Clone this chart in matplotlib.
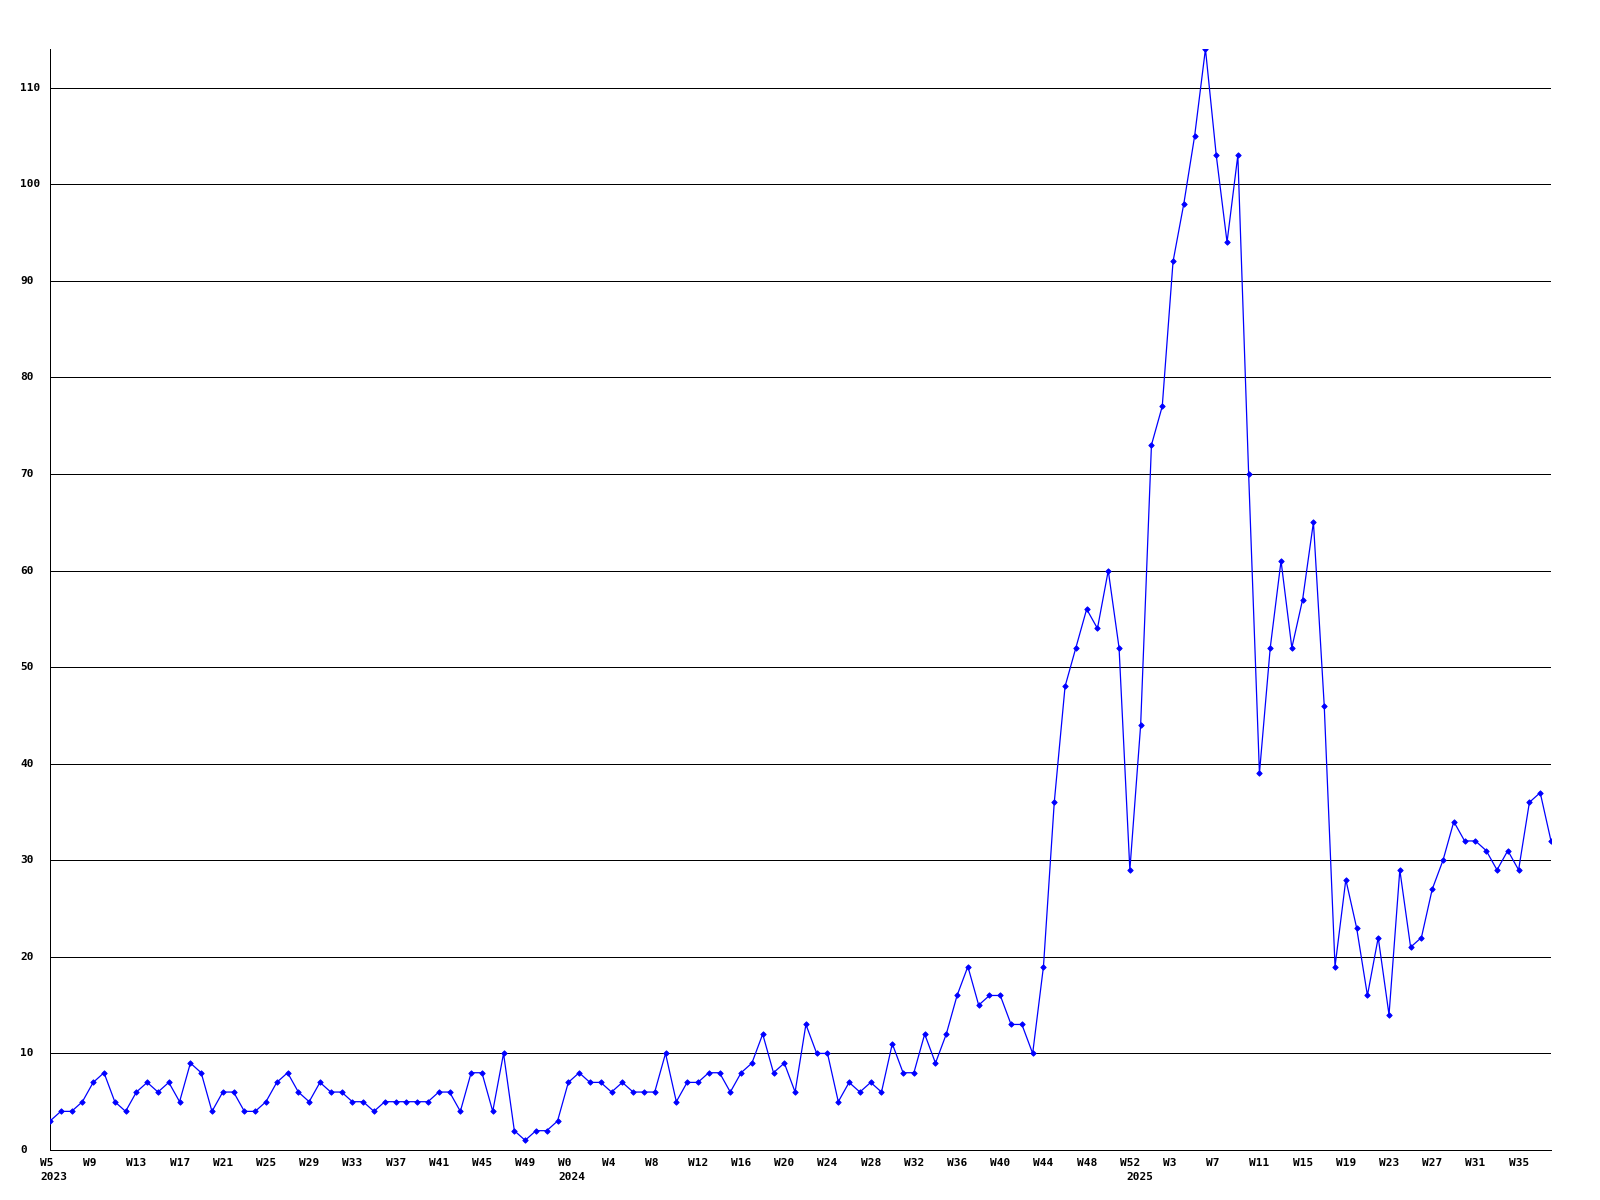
import matplotlib
matplotlib.use("Agg")
import matplotlib.pyplot as plt

# weekly counts, 2023 W5 .. 2025 W38
values = [3, 4, 4, 5, 7, 8, 5, 4, 6, 7, 6, 7, 5, 9, 8, 4, 6, 6, 4, 4,
          5, 7, 8, 6, 5, 7, 6, 6, 5, 5, 4, 5, 5, 5, 5, 5, 6, 6, 4, 8,
          8, 4, 10, 2, 1, 2, 2, 3, 7, 8, 7, 7, 6, 7, 6, 6, 6, 10, 5, 7,
          7, 8, 8, 6, 8, 9, 12, 8, 9, 6, 13, 10, 10, 5, 7, 6, 7, 6, 11, 8,
          8, 12, 9, 12, 16, 19, 15, 16, 16, 13, 13, 10, 19, 36, 48, 52, 56, 54, 60, 52,
          29, 44, 73, 77, 92, 98, 105, 114, 103, 94, 103, 70, 39, 52, 61, 52, 57, 65, 46, 19,
          28, 23, 16, 22, 14, 29, 21, 22, 27, 30, 34, 32, 32, 31, 29, 31, 29, 36, 37, 32]

tick_labels = ["W5", "W9", "W13", "W17", "W21", "W25", "W29", "W33", "W37", "W41",
               "W45", "W49", "W0", "W4", "W8", "W12", "W16", "W20", "W24", "W28",
               "W32", "W36", "W40", "W44", "W48", "W52", "W3", "W7", "W11", "W15",
               "W19", "W23", "W27", "W31", "W35"]
tick_pos = [4 * i for i in range(len(tick_labels))]

years = ["2023", "2024", "2025"]
year_pos = [0, 48, 100.6]

y_ticks = list(range(0, 111, 10))

x = list(range(len(values)))

fig = plt.figure(figsize=(16, 12), dpi=100)
ax = fig.add_axes([50 / 1600, 1 - 1150 / 1200, 1501 / 1600, 1101 / 1200])

for v in y_ticks[1:]:
    ax.axhline(v, color="black", lw=0.72, zorder=1)

ax.plot(x, values, color="#0000ff", lw=0.9, marker="D", ms=2.8,
        markeredgewidth=0.6, zorder=3)

ax.set_xlim(0, len(values) - 1)
ax.set_ylim(0, max(values))

for s in ["top", "right"]:
    ax.spines[s].set_visible(False)
for s in ["left", "bottom"]:
    ax.spines[s].set_color("black")
    ax.spines[s].set_linewidth(0.72)

ax.set_xticks([])
ax.set_yticks([])

font = dict(family="DejaVu Sans Mono", weight="bold", size=8)

for lab, xp in zip(tick_labels, tick_pos):
    ax.annotate(lab, xy=(xp, 0), xycoords=("data", "axes fraction"),
                xytext=(-10, -8), textcoords="offset pixels",
                ha="left", va="top", **font)

for yl, xp in zip(years, year_pos):
    ax.annotate(yl, xy=(xp, 0), xycoords=("data", "axes fraction"),
                xytext=(-10, -22), textcoords="offset pixels",
                ha="left", va="top", **font)

for v in y_ticks:
    ax.annotate(str(v), xy=(0, v), xycoords=("axes fraction", "data"),
                xytext=(-30, 0), textcoords="offset pixels",
                ha="left", va="center", **font)

fig.savefig("out.png", dpi=100)
